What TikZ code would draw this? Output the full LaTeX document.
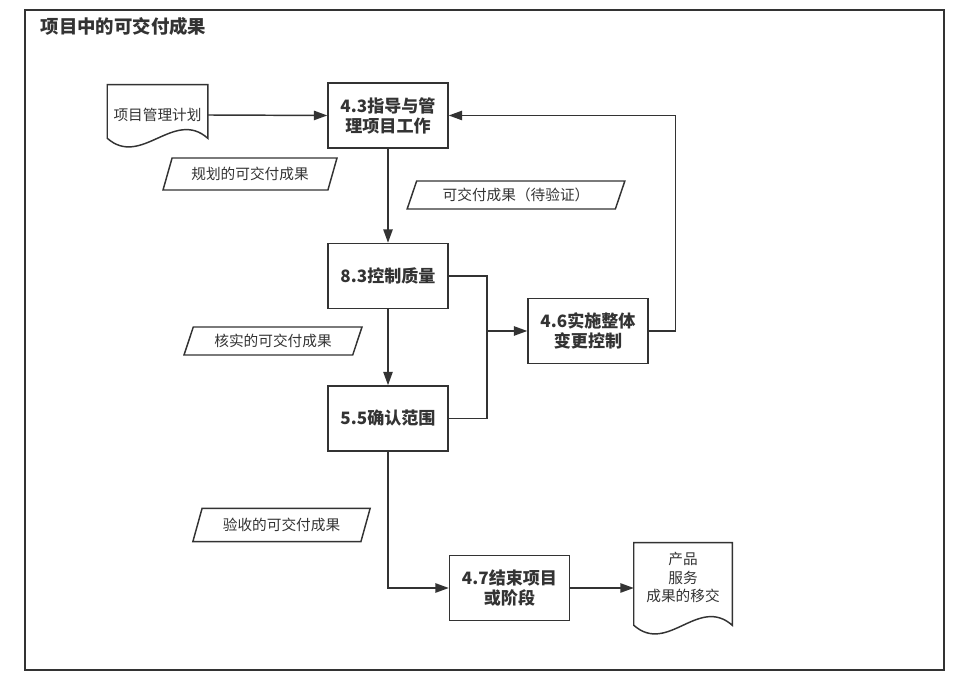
\documentclass[tikz,border=0pt]{standalone}
\usepackage{fontspec}
\setmainfont{Noto Sans CJK SC}
\usetikzlibrary{arrows.meta,calc,positioning,shapes.geometric}
\definecolor{ink}{HTML}{333333}
\tikzstyle{process}=[
  draw=ink,
  line width=1.1pt,
  minimum width=90pt,
  minimum height=48.75pt,
  align=center,
  text=ink,
  font=\fontsize{12.8}{15}\selectfont\bfseries,
]
\tikzstyle{data}=[
  trapezium,
  trapezium left angle=72,
  trapezium right angle=108,
  trapezium stretches=true,
  draw=ink,
  line width=1.1pt,
  text=ink,
  font=\fontsize{11}{14}\selectfont,
]
\tikzstyle{doc}=[
  minimum width=75pt,
  minimum height=45pt,
  inner sep=0pt,
  align=center,
  text=ink,
  font=\fontsize{11}{14}\selectfont,
]
\tikzstyle{docline}=[draw=ink, line width=1.1pt]
\tikzstyle{flow}=[draw=ink, line width=1.1pt]
\tikzset{
  >={Triangle[length=10pt,width=7pt]},
}
% document shape: sides end #2 above the node's south edge, then a wave
\newcommand{\docshape}[2]{%
  \draw[docline] (#1.north west) -- (#1.north east)
    -- ($(#1.south east)+(0,#2)$)
    .. controls +(-34,30) and +(34,-30) .. ($(#1.south west)+(0,#2)$)
    -- cycle;}

\begin{document}
\begin{tikzpicture}[x=0.75pt,y=0.75pt]
  \useasboundingbox (0,0) rectangle (970,685);
  \draw[flow] (25,15) rectangle (944,675);
  \node[anchor=west, text=ink, font=\fontsize{13.8}{16}\selectfont\bfseries]
    (title) at (36,659) {项目中的可交付成果};

  % processes
  \node[process] (dir) at (388,569.5) {4.3指导与管\\理项目工作};
  \node[process, below=70.5pt of dir] (qc) {8.3控制质量};
  \node[process, below=57pt of qc] (scope) {5.5确认范围};
  \node[process] (icc) at (588,354) {4.6实施整体\\变更控制};
  \node[process] (close) at (509.5,97) {4.7结束项目\\或阶段};

  % documents
  \node[doc] (plan) at (157.5,570) {项目管理计划};
  \docshape{plan}{7}
  \node[doc, minimum width=73.5pt, minimum height=51.75pt]
    (deliv) at (683,107.5) {产品\\服务\\成果的移交};
  \docshape{deliv}{-13}

  % data
  \node[data, minimum width=130.5pt, minimum height=24pt]
    (planned) at (250,511) {规划的可交付成果};
  \node[data, minimum width=163.5pt, minimum height=21pt]
    (pending) at (516,490) {可交付成果（待验证）};
  \node[data, minimum width=133.5pt, minimum height=21pt]
    (verified) at (273,344) {核实的可交付成果};
  \node[data, minimum width=133pt, minimum height=25pt]
    (accepted) at (281.5,160) {验收的可交付成果};

  % flows
  \draw[flow,->] (plan.east) -- (dir.west);
  \draw[flow,->] (dir) -- (qc);
  \draw[flow,->] (qc) -- (scope);
  \coordinate (join) at (487,354);
  \draw[flow] (qc.east) -| (join) |- (scope.east);
  \draw[flow,->] (join) -- (icc.west);
  \draw[flow,->] (icc.east) -- ++(20.25pt,0) |- (dir.east);
  \draw[flow,->] (scope.south) |- (close.west);
  \draw[flow,->] (close.east) -- (close.east -| deliv.west);
\end{tikzpicture}
\end{document}
